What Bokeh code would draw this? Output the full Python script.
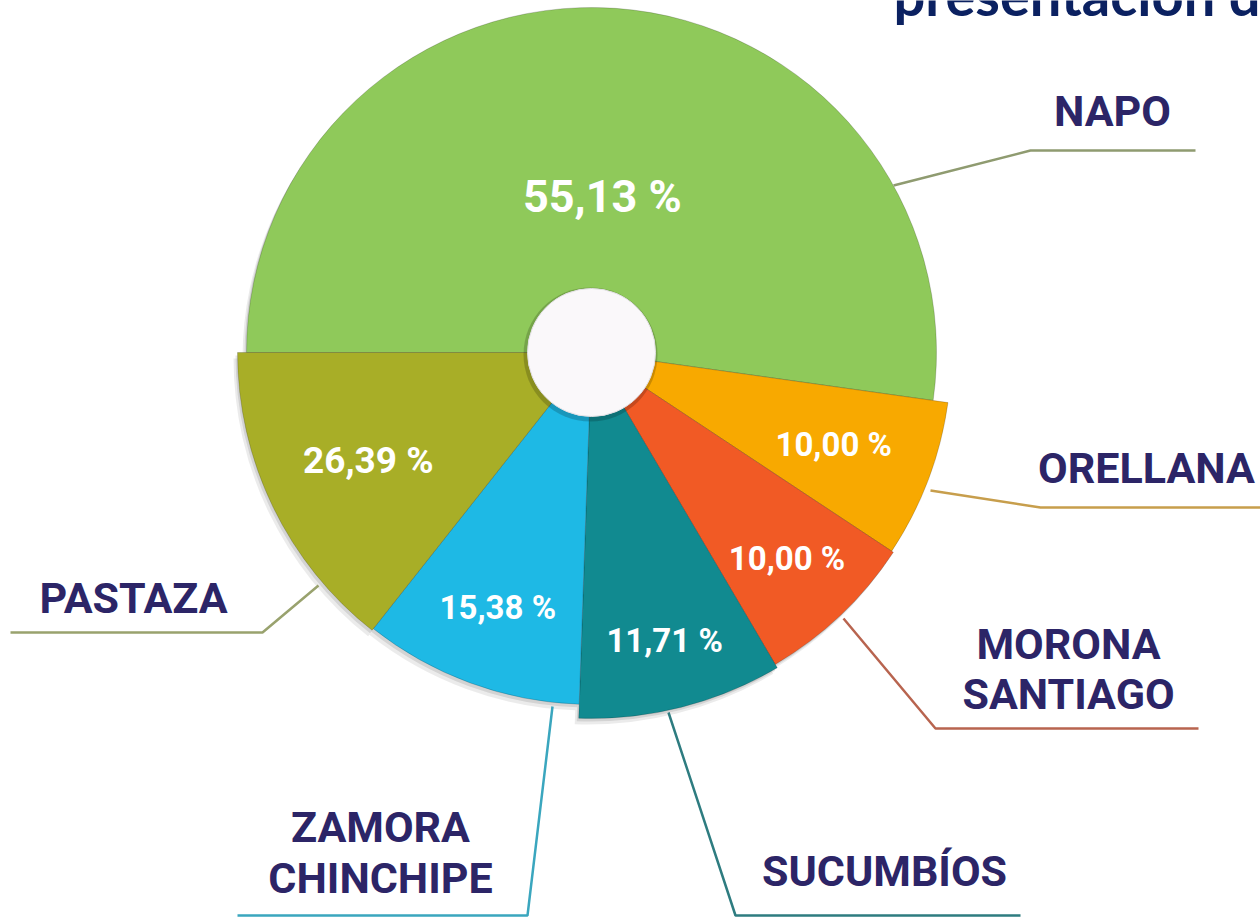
import math
from bokeh.plotting import figure
from bokeh.models import ColumnDataSource, Range1d
from bokeh.core.properties import value
from bokeh.embed import file_html
from bokeh.resources import INLINE

# ---------------- data ----------------
provinces = ["NAPO", "ORELLANA", "MORONA SANTIAGO", "SUCUMBÍOS", "ZAMORA CHINCHIPE", "PASTAZA"]
percent_values = [55.13, 10.00, 10.00, 11.71, 15.38, 26.39]
percent_labels = ["55,13 %", "10,00 %", "10,00 %", "11,71 %", "15,38 %", "26,39 %"]
# angular span of each slice as drawn in the picture (degrees, clockwise from 9 o'clock)
slice_span_deg = [188.0, 25.5, 26.0, 32.5, 36.3, 51.7]
title_text = "presentación de"

# ---------------- style / layout ----------------
W, H = 1260, 918
slice_colors = ["#8FC95A", "#F8A900", "#F15A25", "#118A90", "#1EB9E5", "#A8AE27"]
leader_colors = ["#8F9B70", "#C79E4C", "#B8644F", "#2E7C80", "#3AA6BE", "#99A26E"]
radius_px = [345, 360, 362, 366, 352, 354]
label_r = [156, 259, 284, 297, 272, 248]
label_size = [45, 33, 33, 33, 33, 37]
CX, CY = 591, H - 352

def Y(py):
    return H - py

label_font = "Roboto"

p = figure(width=W, height=H, x_range=Range1d(0, W), y_range=Range1d(0, H),
           output_backend="svg", toolbar_location=None, min_border=0)
p.axis.visible = False
p.grid.visible = False
p.outline_line_color = None
p.background_fill_color = "white"
p.border_fill_color = "white"

# angles
starts, ends, mids = [], [], []
cur = 180.0
for span in slice_span_deg:
    e = cur
    s = cur - span
    starts.append(math.radians(s))
    ends.append(math.radians(e))
    mids.append(math.radians((s + e) / 2))
    cur = s

src = ColumnDataSource(dict(
    x=[CX] * len(provinces), y=[CY] * len(provinces),
    r=radius_px, start=starts, end=ends, color=slice_colors,
    province=provinces, value=percent_values,
))

# soft shadow
for dx, dy, a in [(-2, -3, 0.10), (-4, -6, 0.08)]:
    p.wedge(x=CX + dx, y=CY + dy, radius="r", start_angle="start", end_angle="end",
            source=src, fill_color="black", fill_alpha=a, line_color=None)

p.wedge(x="x", y="y", radius="r", start_angle="start", end_angle="end", source=src,
        fill_color="color", line_color="#000000", line_alpha=0.18, line_width=1)

# center hole
p.scatter(x=[CX - 1], y=[CY - 2], size=134, marker="circle", fill_color="#000000",
          fill_alpha=0.18, line_color=None)
p.scatter(x=[CX], y=[CY], size=128, marker="circle", fill_color="#FAF8FA",
          line_color="#E2E0E4", line_width=1)

# percentage labels
lx = [CX + r * math.cos(m) for r, m in zip(label_r, mids)]
ly = [CY + r * math.sin(m) for r, m in zip(label_r, mids)]
lsrc = ColumnDataSource(dict(x=lx, y=ly, t=percent_labels,
                             fs=[f"{s}px" for s in label_size]))
p.text(x="x", y="y", text="t", source=lsrc, text_color="white",
       text_font=value(label_font), text_font_style="bold", text_font_size="fs",
       text_align="center", text_baseline="middle")

# leader lines
leaders = [
    [(893, 185), (1030, 150), (1195, 150)],
    [(930, 490), (1040, 507), (1260, 507)],
    [(843, 618), (935, 728), (1198, 728)],
    [(668, 712), (735, 915), (1020, 915)],
    [(552, 706), (527, 915), (237, 915)],
    [(318, 585), (262, 632), (10, 632)],
]
for pts, c in zip(leaders, leader_colors):
    p.line(x=[q[0] for q in pts], y=[Y(q[1]) for q in pts], line_color=c, line_width=2.5)

# province labels
name_lines = [["NAPO"], ["ORELLANA"], ["MORONA", "SANTIAGO"], ["SUCUMBÍOS"],
              ["ZAMORA", "CHINCHIPE"], ["PASTAZA"]]
name_pos = [[(1112, 110)], [(1146, 467)], [(1068, 643), (1068, 693)], [(884, 870)],
            [(380, 826), (380, 877)], [(133, 597)]]
nx, ny, nt = [], [], []
for lines, poss in zip(name_lines, name_pos):
    for t, (px, py) in zip(lines, poss):
        nx.append(px); ny.append(Y(py)); nt.append(t)
p.text(x=nx, y=ny, text=nt, text_color="#2C2567", text_font=value(label_font),
       text_font_style="bold", text_font_size="43px", text_align="center",
       text_baseline="middle")

# title (cut off at the top, as in the source page)
p.text(x=[893], y=[Y(-6)], text=[title_text], text_color="#0B2161",
       text_font=value("Lato"), text_font_style="bold", text_font_size="56px",
       text_align="left", text_baseline="alphabetic")

open("out.html", "w").write(file_html(p, INLINE))
